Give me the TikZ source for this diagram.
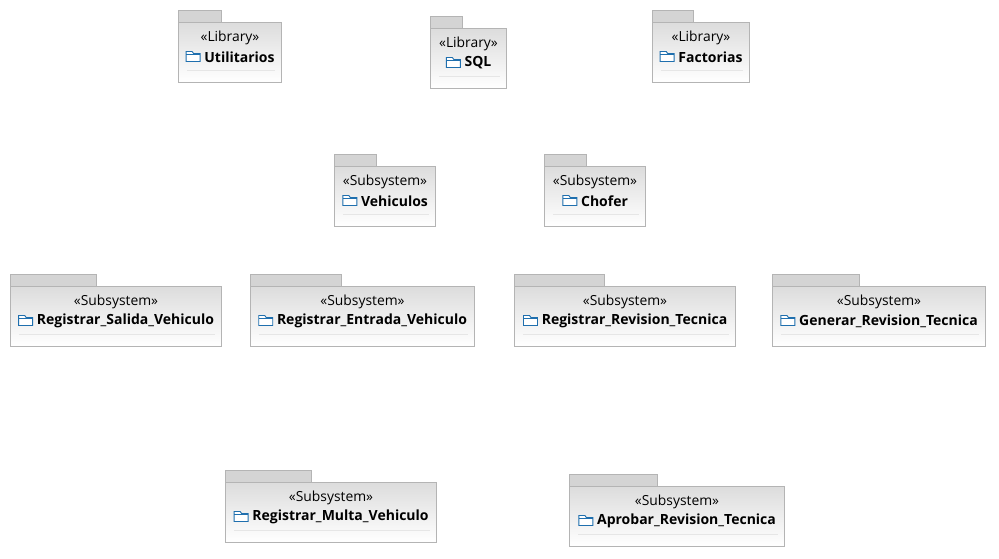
\documentclass[tikz,border=0pt]{standalone}
\usepackage{fontspec}
\setmainfont{Open Sans}
\usetikzlibrary{calc}

\definecolor{pkgline}{HTML}{B4B4B4}
\definecolor{pkgtab}{HTML}{D4D4D4}
\definecolor{pkgtop}{HTML}{DCDCDC}
\definecolor{pkgsep}{HTML}{E6E6E6}
\definecolor{pkgblue}{HTML}{1F6FAE}

\tikzset{
  pkgbody/.style={rectangle,draw=pkgline,line width=.55pt,anchor=north west,inner sep=0,outer sep=0,
    minimum height=45pt,top color=pkgtop,middle color=white,bottom color=white},
  pkgtabs/.style={rectangle,draw=pkgline,line width=.45pt,fill=pkgtab,anchor=south west,inner sep=0,outer sep=0,
    minimum height=9pt},
  pkgstereo/.style={inner sep=0,font=\fontsize{10.4}{12}\selectfont},
  pkglabel/.style={inner sep=0,font=\fontsize{10.5}{12}\selectfont\bfseries},
  pkgicon/.style={draw=pkgblue,line width=.7pt,fill=white}
}

% name, x, y (top of body), width, tab width, stereotype, label
\newcommand{\package}[7]{
  \node (#1body) at (#2,#3) [pkgbody,minimum width=#4*.75pt] {};
  \node (#1tab) at (#2,#3) [pkgtabs,minimum width=#5*.75pt] {};
  \node (#1stereo) at (#2+#4/2+.5,#3+15.5) [pkgstereo] {\guillemotleft#6\guillemotright};
  \node (#1label) at (#2+#4/2+10,#3+35) [pkglabel] {#7};
  \draw [pkgsep,line width=.6pt] (#2+9,#3+48) -- (#2+#4-6,#3+48);
  \draw [pkgicon] ($(#1label.west)+(-18,4.5)$) -- ++(0,-10) -- ++(6,0) -- ++(1.5,2) -- ++(6.5,0) -- ++(0,8) -- cycle;
  \draw [pkgblue,line width=.5pt] ($(#1label.west)+(-18,-3)$) -- ++(14,0);
}

\begin{document}
\begin{tikzpicture}[x=.75pt,y=-.75pt]
\useasboundingbox (0,0) rectangle (999,558);

\package{util}{178}{22}{103}{43}{Library}{Utilitarios}
\package{sql}{430}{28}{76}{32}{Library}{SQL}
\package{fact}{652}{22}{97}{41}{Library}{Factorias}

\package{vehi}{334}{166}{101}{42}{Subsystem}{Vehiculos}
\package{chof}{544}{166}{101}{42}{Subsystem}{Chofer}

\package{sali}{10}{286}{211}{86}{Subsystem}{Registrar\_Salida\_Vehiculo}
\package{entr}{250}{286}{224}{91}{Subsystem}{Registrar\_Entrada\_Vehiculo}
\package{revi}{514}{286}{221}{90}{Subsystem}{Registrar\_Revision\_Tecnica}
\package{gene}{772}{286}{213}{87}{Subsystem}{Generar\_Revision\_Tecnica}

\package{mult}{225}{482}{211}{86}{Subsystem}{Registrar\_Multa\_Vehiculo}
\package{apro}{569}{486}{215}{88}{Subsystem}{Aprobar\_Revision\_Tecnica}

\end{tikzpicture}
\end{document}
